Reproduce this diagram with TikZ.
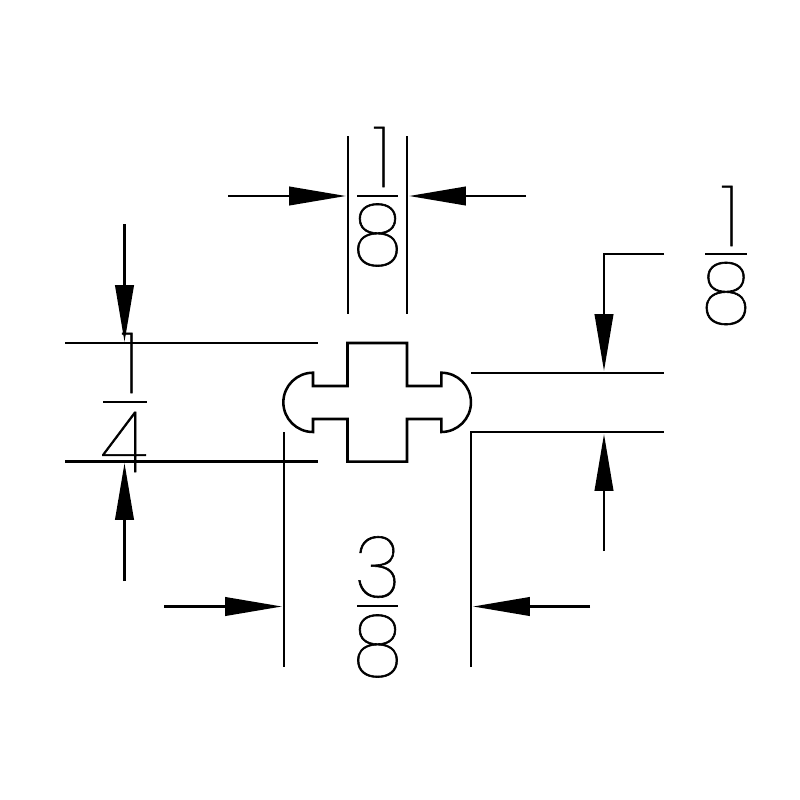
\documentclass[tikz,border=0pt]{standalone}
\usepackage{fontspec}
\usetikzlibrary{arrows.meta}
\newfontfamily\cadfont[FakeBold=0.7,FakeStretch=0.94]{Poppins Thin}
\tikzset{
  dimline/.style={line width=0.9pt},
  dimarrow/.style={line width=0.9pt,-{Triangle[length=7.1mm,width=2.3mm]}},
  digit/.style={inner sep=0pt,font=\cadfont\fontsize{30.5}{31}\selectfont}
}

\begin{document}
\begin{tikzpicture}[x=0.125mm,y=-0.125mm]

\useasboundingbox (0,0) rectangle (800,800);

\draw[dimline,line join=miter] (347.5,343) -- (407,343) -- (407,386) -- (441.3,386) -- (441.3,372.7) arc[start angle=-90,end angle=90,radius=29.65] -- (441.3,419) -- (407,419) -- (407,461.7) -- (347.5,461.7) -- (347.5,419) -- (313,419) -- (313,432) arc[start angle=90,end angle=270,radius=29.65] -- (313,386) -- (347.5,386) -- cycle;

\draw[dimline] (348,136) -- (348,314);
\draw[dimline] (407,136) -- (407,314);
\draw[dimarrow] (228,196) -- (346,196);
\draw[dimarrow] (526,196) -- (409,196);
\draw[dimline] (357,196) -- (398,196);
\node[digit] (topnum) at (382,157) {1};
\node[digit] (topden) at (377.5,235) {8};

\draw[dimline] (65,343) -- (318,343);
\draw[dimline] (65,461.5) -- (318,461.5);
\draw[dimarrow] (124.5,224) -- (124.5,342);
\draw[dimarrow] (124.5,581) -- (124.5,463);
\draw[dimline] (103,402) -- (147,402);
\node[digit] (leftnum) at (130,363) {1};
\node[digit] (leftden) at (124,442) {4};

\draw[dimline] (471,373) -- (664,373);
\draw[dimline] (471,667) -- (471,432) -- (664,432);
\draw[dimarrow] (664,254) -- (604,254) -- (604,371);
\draw[dimarrow] (604,551) -- (604,434);
\draw[dimline] (705,254) -- (747,254);
\node[digit] (rightnum) at (730,216) {1};
\node[digit] (rightden) at (726,293.5) {8};

\draw[dimline] (284,432) -- (284,667);
\draw[dimarrow] (164,606.5) -- (282,606.5);
\draw[dimarrow] (590,606.5) -- (473,606.5);
\draw[dimline] (357,606) -- (398,606);
\node[digit] (botnum) at (377.5,567) {3};
\node[digit] (botden) at (377.5,646) {8};

\end{tikzpicture}
\end{document}
